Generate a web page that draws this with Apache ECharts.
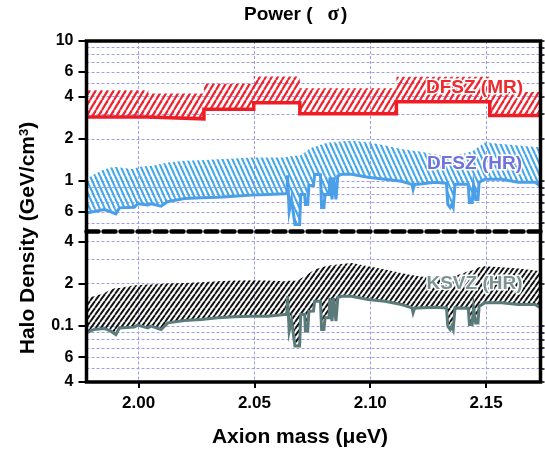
<!DOCTYPE html>
<html><head><meta charset="utf-8">
<script src="https://cdn.jsdelivr.net/npm/echarts@6/dist/echarts.min.js"></script>
<style>html,body{margin:0;padding:0;background:#fff}#c{width:545px;height:455px}</style>
</head><body><div id="c"></div>
<script>
// ---------- data ----------
const xTicks = [2.00, 2.05, 2.10, 2.15];
const topTickLabels = [0.6, 1, 2, 4, 6, 10];
const topMinorTicks = [0.5, 0.6, 0.7, 0.8, 0.9, 1, 2, 3, 4, 5, 6, 7, 8, 9, 10];
const botTickLabels = [0.04, 0.06, 0.1, 0.2, 0.4];
const botMinorTicks = [0.04, 0.05, 0.06, 0.07, 0.08, 0.09, 0.1, 0.2, 0.3, 0.4];

const mrMass  = [1.9775, 2.0042, 2.0282, 2.0497, 2.0696, 2.1113, 2.1516, 2.1735];
const mrLower = [2.87, 2.78, 3.25, 3.62, 3.02, 3.68, 2.94, 2.94];
const mrUpper = [4.44, 4.21, 4.96, 5.57, 4.60, 5.56, 4.33, 4.33];

const hrMass = [1.9775, 1.9808, 1.9852, 1.9880, 1.9902, 1.9917, 1.9981, 1.9996, 2.0039, 2.0054,
  2.0097, 2.0126, 2.0198, 2.0270, 2.0342, 2.0414, 2.0486, 2.0558, 2.0630, 2.0640,
  2.0643, 2.0650, 2.0660, 2.0675, 2.0695, 2.0700, 2.0717, 2.0720, 2.0730, 2.0735,
  2.0755, 2.0760, 2.0785, 2.0790, 2.0800, 2.0805, 2.0822, 2.0826, 2.0835, 2.0842,
  2.0852, 2.0860, 2.0877, 2.0919, 2.0991, 2.1063, 2.1135, 2.1180, 2.1185, 2.1192,
  2.1207, 2.1279, 2.1329, 2.1335, 2.1345, 2.1352, 2.1358, 2.1366, 2.1423, 2.1428,
  2.1440, 2.1446, 2.1455, 2.1465, 2.1470, 2.1495, 2.1567, 2.1639, 2.1712, 2.1735];
const hrLower = [0.592, 0.605, 0.626, 0.602, 0.582, 0.643, 0.650, 0.688, 0.675, 0.688,
  0.661, 0.713, 0.750, 0.759, 0.767, 0.780, 0.793, 0.802, 0.810, 0.815,
  1.100, 0.605, 0.740, 0.490, 0.490, 0.800, 0.800, 0.680, 0.680, 0.930,
  0.930, 1.117, 1.110, 0.647, 0.647, 0.800, 0.800, 1.063, 0.739, 1.063,
  0.739, 1.090, 1.117, 1.117, 1.063, 1.029, 0.995, 0.947, 0.870, 0.947,
  0.947, 0.979, 0.963, 0.680, 0.647, 0.680, 0.647, 0.947, 0.947, 0.703,
  0.703, 0.931, 0.739, 0.739, 0.979, 1.029, 1.029, 0.979, 0.979, 0.916];
const hrUpper = [1.028, 1.117, 1.215, 1.248, 1.260, 1.248, 1.215, 1.260, 1.280, 1.280,
  1.330, 1.356, 1.394, 1.410, 1.433, 1.450, 1.473, 1.473, 1.473, 1.490,
  1.490, 1.490, 1.500, 1.514, 1.514, 1.530, 1.600, 1.610, 1.660, 1.690,
  1.750, 1.760, 1.810, 1.820, 1.850, 1.860, 1.880, 1.888, 1.888, 1.888,
  1.890, 1.900, 1.920, 1.940, 1.890, 1.790, 1.690, 1.650, 1.645, 1.640,
  1.630, 1.556, 1.514, 1.514, 1.514, 1.514, 1.514, 1.520, 1.600, 1.610,
  1.630, 1.650, 1.690, 1.740, 1.760, 1.890, 1.840, 1.790, 1.750, 1.740];

const ksvzMass = [1.9775, 1.9808, 1.9852, 1.9880, 1.9902, 1.9917, 1.9981, 1.9996, 2.0039, 2.0054,
  2.0097, 2.0126, 2.0198, 2.0270, 2.0342, 2.0414, 2.0486, 2.0558, 2.0630, 2.0640,
  2.0643, 2.0650, 2.0660, 2.0675, 2.0695, 2.0700, 2.0717, 2.0720, 2.0730, 2.0735,
  2.0755, 2.0760, 2.0785, 2.0790, 2.0800, 2.0805, 2.0822, 2.0826, 2.0835, 2.0842,
  2.0852, 2.0860, 2.0877, 2.0919, 2.0991, 2.1063, 2.1135, 2.1180, 2.1185, 2.1192,
  2.1207, 2.1279, 2.1329, 2.1335, 2.1345, 2.1352, 2.1358, 2.1366, 2.1423, 2.1428,
  2.1440, 2.1446, 2.1455, 2.1465, 2.1470, 2.1495, 2.1567, 2.1639, 2.1712, 2.1735];
const ksvzLower = [0.0895, 0.0945, 0.0961, 0.0920, 0.0871, 0.0970, 0.0982, 0.1015, 0.0970, 0.0998,
  0.0945, 0.1054, 0.1095, 0.1113, 0.1143, 0.1162, 0.1175, 0.1175, 0.1208, 0.1210,
  0.1629, 0.0920, 0.1100, 0.0720, 0.0720, 0.1208, 0.1210, 0.0920, 0.0920, 0.1275,
  0.1280, 0.1502, 0.1500, 0.0945, 0.0945, 0.1143, 0.1143, 0.1585, 0.1083, 0.1585,
  0.1083, 0.1600, 0.1629, 0.1629, 0.1544, 0.1502, 0.1422, 0.1346, 0.1240, 0.1346,
  0.1346, 0.1362, 0.1346, 0.0998, 0.0945, 0.1000, 0.0945, 0.1346, 0.1340, 0.1026,
  0.1026, 0.1340, 0.1050, 0.1050, 0.1380, 0.1462, 0.1462, 0.1422, 0.1422, 0.1346];
const ksvzUpper = [0.1585, 0.1629, 0.1720, 0.1817, 0.1866, 0.1866, 0.1950, 0.1950, 0.1972, 0.1972,
  0.1990, 0.2004, 0.2024, 0.2047, 0.2080, 0.2105, 0.2116, 0.2105, 0.2080, 0.2090,
  0.2100, 0.2100, 0.2105, 0.2100, 0.2150, 0.2180, 0.2259, 0.2270, 0.2330, 0.2370,
  0.2480, 0.2519, 0.2600, 0.2620, 0.2640, 0.2659, 0.2690, 0.2700, 0.2710, 0.2720,
  0.2730, 0.2734, 0.2760, 0.2810, 0.2659, 0.2519, 0.2384, 0.2300, 0.2295, 0.2290,
  0.2259, 0.2197, 0.2230, 0.2240, 0.2250, 0.2255, 0.2259, 0.2270, 0.2450, 0.2460,
  0.2480, 0.2500, 0.2560, 0.2600, 0.2620, 0.2659, 0.2616, 0.2560, 0.2480, 0.2450];

const seriesNames = ['DFSZ (MR)', 'DFSZ (HR)', 'KSVZ (HR)'];
const titleText = 'Power (';
const xName = 'Axion mass (\u03bceV)';

// ---------- helpers ----------
const X_MIN = 1.9775, X_MAX = 2.1735;
function pairs(xs, ys) { return xs.map((x, i) => [x, ys[i]]); }
function triples(xs, lo, hi) { return xs.map((x, i) => [x, lo[i], hi[i]]); }
function hatch(color, w, h, lw, dir) {
  const c = document.createElement('canvas'); c.width = w; c.height = h;
  const g = c.getContext('2d'); g.strokeStyle = color; g.lineWidth = lw;
  for (const o of [-w, 0, w]) {
    g.beginPath();
    if (dir > 0) { g.moveTo(o, h); g.lineTo(o + w, 0); }
    else { g.moveTo(o, 0); g.lineTo(o + w, h); }
    g.stroke();
  }
  return c;
}
function fmtLog(v) {
  const e = Math.floor(Math.log10(v) + 1e-9);
  const m = Math.round(v / Math.pow(10, e));
  return m === 1 ? String(+v.toPrecision(3)) : String(m);
}
const FONT = 'Liberation Sans, Arial, Helvetica, sans-serif';
const GRIDC = '#9d9de8';
const L = 86.5, R = 4.5, TOP = 41, SEP = 231.5, BOT = 382;

function xAxisCfg(gi, showLabels) {
  return {
    gridIndex: gi, type: 'value', min: X_MIN, max: X_MAX,
    axisLine: showLabels ? { show: false } : { show: true, onZero: false, lineStyle: { color: '#000', width: 4.5, type: [12, 5] } },
    axisTick: { show: showLabels, customValues: xTicks, length: 6, lineStyle: { color: '#000', width: 2 } },
    axisLabel: { show: showLabels, customValues: xTicks, margin: 13, formatter: v => v.toFixed(2),
      color: '#000', fontFamily: FONT, fontWeight: 'bold', fontSize: 17 },
    splitLine: { show: true, lineStyle: { color: GRIDC, width: 1, type: [3, 2] } }
  };
}
function yAxisLabels(gi, mn, mx, ticks) {
  return {
    gridIndex: gi, type: 'log', logBase: 10, min: mn, max: mx,
    axisLine: { show: false },
    axisTick: { show: true, customValues: ticks, length: 8, lineStyle: { color: '#000', width: 2 } },
    axisLabel: { show: true, customValues: ticks, margin: 13, formatter: fmtLog,
      color: '#000', fontFamily: FONT, fontWeight: 'bold', fontSize: 16 },
    splitLine: { show: false }
  };
}
function yAxisMinor(gi, mn, mx, ticks) {
  return {
    gridIndex: gi, type: 'log', logBase: 10, min: mn, max: mx,
    axisLine: { show: false },
    axisTick: { show: true, customValues: ticks, length: 4, lineStyle: { color: '#000', width: 1.5 } },
    axisLabel: { show: false },
    splitLine: { show: true, lineStyle: { color: GRIDC, width: 1, type: [3, 2] } }
  };
}
function labelPoint(text, coord, color) {
  return {
    symbol: 'circle', symbolSize: 1, itemStyle: { color: 'rgba(0,0,0,0)' }, silent: true,
    data: [{ coord: coord, value: text }],
    label: { show: true, position: 'inside', formatter: text, color: color, fontFamily: FONT,
      fontWeight: 'bold', fontSize: 19, textBorderColor: '#fff', textBorderWidth: 3 }
  };
}
// hatched band between lower and upper curves, drawn through the axis scales
function bandSeries(name, xi, yi, xs, lo, hi, pattern, stepped, mark) {
  return {
    type: 'custom', name: name, xAxisIndex: xi, yAxisIndex: yi, clip: true, z: 2, silent: true,
    data: triples(xs, lo, hi),
    encode: { x: 0, y: [1, 2] },
    renderItem: function (params, api) {
      if (params.dataIndex !== 0) return;
      const top = [], bot = [];
      for (let i = 0; i < xs.length; i++) {
        if (stepped && i > 0) {
          top.push(api.coord([xs[i], hi[i - 1]]));
          bot.push(api.coord([xs[i], lo[i - 1]]));
        }
        top.push(api.coord([xs[i], hi[i]]));
        bot.push(api.coord([xs[i], lo[i]]));
      }
      return { type: 'polygon', shape: { points: top.concat(bot.reverse()) },
        style: { fill: { image: pattern, repeat: 'repeat' }, stroke: null } };
    },
    markPoint: mark
  };
}

const redPat = hatch('#ee2430', 6, 10, 2.2, 1);
const bluePat = hatch('#42a6ea', 5, 11, 2.1, -1);
const blackPat = hatch('#111', 5, 7, 1.9, 1);

const option = {
  backgroundColor: '#fff',
  animation: false,
  title: {
    text: '{b|' + titleText + '}{s|\u03c3}{b|)}', left: 244, top: 4, padding: 0,
    textStyle: { rich: {
      b: { fontFamily: FONT, fontWeight: 'bold', fontSize: 19, color: '#000' },
      s: { fontFamily: 'Liberation Serif, serif', fontSize: 21, color: '#000', padding: [0, 2, 0, 15] }
    } }
  },
  grid: [
    { left: L, right: R, top: TOP, height: SEP - TOP },
    { left: L, right: R, top: SEP, height: BOT - SEP },
    { left: L, right: R, top: TOP, height: BOT - TOP, show: true, borderColor: '#000', borderWidth: 3.5, backgroundColor: 'transparent', z: 10 },
    { left: L, width: 427, top: 94, height: BOT - 94 }
  ],
  xAxis: [
    xAxisCfg(0, false),
    xAxisCfg(1, true),
    { gridIndex: 3, type: 'value', min: 0, max: 1, axisLine: { show: false }, axisTick: { show: false },
      axisLabel: { show: false }, splitLine: { show: false },
      name: xName, nameLocation: 'middle', nameGap: 45,
      nameTextStyle: { fontFamily: FONT, fontWeight: 'bold', fontSize: 21, color: '#000' } }
  ],
  yAxis: [
    yAxisLabels(0, 0.436, 10, topTickLabels),
    yAxisMinor(0, 0.436, 10, topMinorTicks),
    yAxisLabels(1, 0.04, 0.47, botTickLabels),
    yAxisMinor(1, 0.04, 0.47, botMinorTicks),
    { gridIndex: 3, type: 'value', min: 0, max: 1, axisLine: { show: false }, axisTick: { show: false },
      axisLabel: { show: false }, splitLine: { show: false },
      name: 'Halo Density (GeV/cm{sup|3})', nameLocation: 'middle', nameGap: 47,
      nameTextStyle: { fontFamily: FONT, fontWeight: 'bold', fontSize: 21, color: '#000',
        rich: { sup: { fontFamily: FONT, fontWeight: 'bold', fontSize: 13, color: '#000', verticalAlign: 'top', padding: [0, 0, 9, 0] } } } }
  ],
  series: [
    bandSeries(seriesNames[0], 0, 0, mrMass, mrLower, mrUpper, redPat, true,
      labelPoint(seriesNames[0], [2.1450, 4.65], '#ee2a30')),
    { type: 'line', name: seriesNames[0] + ' lower', xAxisIndex: 0, yAxisIndex: 0, step: 'end',
      data: pairs(mrMass, mrLower), showSymbol: false, z: 4, silent: true,
      lineStyle: { color: '#ee1c24', width: 3.5, join: 'miter' } },
    bandSeries(seriesNames[1], 0, 0, hrMass, hrLower, hrUpper, bluePat, false,
      labelPoint(seriesNames[1], [2.1450, 1.334], '#7272dc')),
    { type: 'line', name: seriesNames[1] + ' lower', xAxisIndex: 0, yAxisIndex: 0,
      data: pairs(hrMass, hrLower), showSymbol: false, z: 4, silent: true,
      lineStyle: { color: '#4b9fe8', width: 3, join: 'miter' } },
    bandSeries(seriesNames[2], 1, 2, ksvzMass, ksvzLower, ksvzUpper, blackPat, false,
      labelPoint(seriesNames[2], [2.1450, 0.199], '#7d9494')),
    { type: 'line', name: seriesNames[2] + ' lower', xAxisIndex: 1, yAxisIndex: 2,
      data: pairs(ksvzMass, ksvzLower), showSymbol: false, z: 4, silent: true,
      lineStyle: { color: '#5b7b7b', width: 3, join: 'miter' } }
  ]
};
const chart = echarts.init(document.getElementById('c'), null, { renderer: 'canvas' });
chart.setOption(option);
</script></body></html>
